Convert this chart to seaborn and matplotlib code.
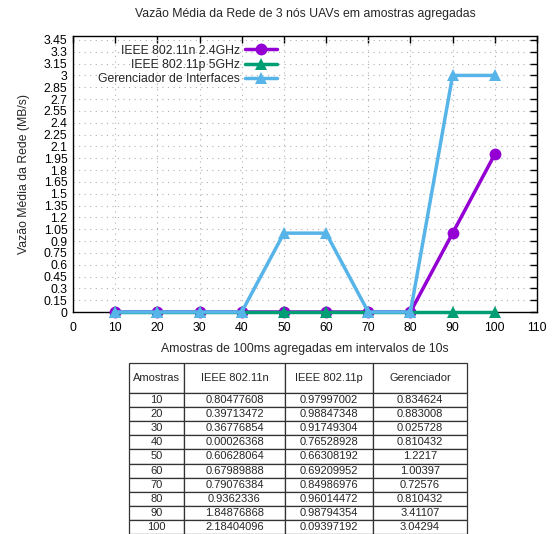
import numpy as np
import pandas as pd
import matplotlib
matplotlib.use('Agg')
import matplotlib.pyplot as plt
import seaborn as sns

# dados do grafico
amostras = [10, 20, 30, 40, 50, 60, 70, 80, 90, 100]
vazao_n = [0, 0, 0, 0, 0, 0, 0, 0, 1, 2]
vazao_p = [0, 0, 0, 0, 0, 0, 0, 0, 0, 0]
vazao_ger = [0, 0, 0, 0, 1, 1, 0, 0, 3, 3]
series = ['IEEE 802.11n 2.4GHz', 'IEEE 802.11p 5GHz', 'Gerenciador de Interfaces']

# dados da tabela
col_labels = ['Amostras', 'IEEE 802.11n', 'IEEE 802.11p', 'Gerenciador']
tab_n = ['0.80477608', '0.39713472', '0.36776854', '0.00026368', '0.60628064',
         '0.67989888', '0.79076384', '0.9362336', '1.84876868', '2.18404096']
tab_p = ['0.97997002', '0.98847348', '0.91749304', '0.76528928', '0.66308192',
         '0.69209952', '0.84986976', '0.96014472', '0.98794354', '0.09397192']
tab_ger = ['0.834624', '0.883008', '0.025728', '0.810432', '1.2217',
           '1.00397', '0.72576', '0.810432', '3.41107', '3.04294']

sns.set_style('white')
plt.rcParams['font.family'] = ['Liberation Sans', 'DejaVu Sans']

df = pd.DataFrame({
    'x': amostras * 3,
    'y': vazao_n + vazao_p + vazao_ger,
    'serie': [series[0]] * 10 + [series[1]] * 10 + [series[2]] * 10,
})

fig = plt.figure(figsize=(5.56, 5.34), dpi=100)
ax = fig.add_axes([0.1313, 0.4157, 0.8345, 0.5169])

cores = ['#9400D3', '#009E73', '#56B4E9']
sns.lineplot(data=df, x='x', y='y', hue='serie', style='serie',
             markers=['o', '^', '^'], dashes=False, palette=cores,
             hue_order=series, style_order=series,
             linewidth=2.5, markersize=8.5, markeredgewidth=0,
             clip_on=False, ax=ax)

ax.set_xlim(0, 110)
ax.set_ylim(0, 3.5)
ax.set_xticks(np.arange(0, 111, 10))
yt = np.round(np.arange(0, 3.46, 0.15), 2)
ax.set_yticks(yt)
ax.set_yticklabels([f'{v:g}' for v in yt])
ax.tick_params(direction='in', length=5, width=1, top=True, right=True,
               labelsize=8.8, colors='black', pad=4)
ax.tick_params(axis='x', pad=7)
ax.grid(True, color='#b0b0b0', linestyle=(0, (1, 4)), linewidth=0.8)
for s in ax.spines.values():
    s.set_color('black')
    s.set_linewidth(1)
    s.set_zorder(1)

ax.set_title('Vazão Média da Rede de 3 nós UAVs em amostras agregadas',
             fontsize=8.8, pad=14)
ax.set_xlabel('Amostras de 100ms agregadas em intervalos de 10s', fontsize=8.8, labelpad=7)
ax.set_ylabel('Vazão Média da Rede (MB/s)', fontsize=8.8, labelpad=10)

leg = ax.legend(loc='upper left', bbox_to_anchor=(0.036, 1.0), frameon=False,
                markerfirst=False, fontsize=8.8, handlelength=2.6,
                labelspacing=0.2, borderaxespad=0.3, handletextpad=0.4)
for t in leg.get_texts():
    t.set_ha('right')
leg._legend_box.align = 'right'

# tabela
tab_ax = fig.add_axes([129 / 556, 0, (467 - 129) / 556, (534 - 363) / 534])
tab_ax.axis('off')
linhas = [[str(a), n, p, g] for a, n, p, g in zip(amostras, tab_n, tab_p, tab_ger)]
tab = tab_ax.table(cellText=linhas, colLabels=col_labels, cellLoc='center',
                   bbox=[0, 0, 1, 1])
tab.auto_set_font_size(False)
tab.set_fontsize(8)
larguras = [55, 101, 88, 94]
for (r, c), cell in tab.get_celld().items():
    cell.set_width(larguras[c])
    cell.set_height(30 if r == 0 else 14.1)
    cell.set_edgecolor('#333333')
    cell.set_linewidth(0.9)

fig.savefig('out.png', dpi=100)
